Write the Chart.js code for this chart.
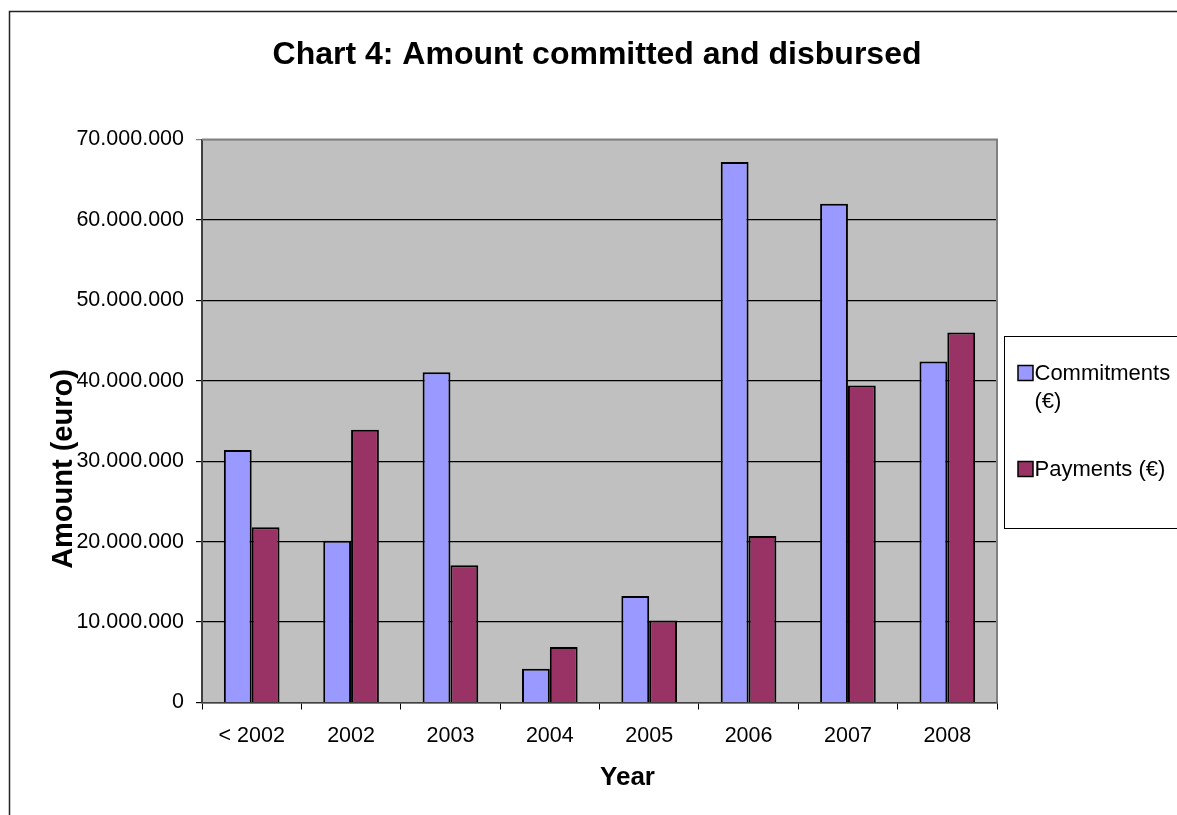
<!DOCTYPE html>
<html>
<head>
<meta charset="utf-8">
<script src="https://cdn.jsdelivr.net/npm/chart.js@4.4.1/dist/chart.umd.min.js"></script>
<style>
  html, body { margin: 0; padding: 0; background: #fff; }
  #wrap { width: 1177px; height: 815px; }
</style>
</head>
<body>
<div id="wrap"><canvas id="chart"></canvas></div>
<script>
const categories = ['< 2002', '2002', '2003', '2004', '2005', '2006', '2007', '2008'];
const commitments = [31400000, 20100000, 41050000, 4200000, 13250000, 67200000, 62000000, 42400000];
const payments = [21800000, 33900000, 17050000, 6900000, 10200000, 20700000, 39400000, 46000000];
const seriesLabels = ['Commitments (€)', 'Payments (€)'];
const yMax = 70000000;
const yStep = 10000000;

const FONT = "'Liberation Sans', Arial, sans-serif";

const formatDots = (v) => String(v).replace(/\B(?=(\d{3})+(?!\d))/g, '.');

// white page, outer frame, grey plot area
const background = {
  id: 'background',
  beforeDraw(chart) {
    const { ctx, chartArea: a } = chart;
    ctx.save();
    ctx.fillStyle = '#fff';
    ctx.fillRect(0, 0, chart.width, chart.height);
    ctx.strokeStyle = '#222';
    ctx.lineWidth = 1.5;
    ctx.strokeRect(9.5, 11.5, chart.width + 20, chart.height + 20);
    ctx.fillStyle = '#c0c0c0';
    ctx.fillRect(a.left, a.top, a.right - a.left, a.bottom - a.top);
    ctx.restore();
  },
  afterDraw(chart) {
    const { ctx, chartArea: a } = chart;
    ctx.save();
    ctx.strokeStyle = '#808080';
    ctx.lineWidth = 2;
    ctx.beginPath();
    ctx.moveTo(a.left, a.top);
    ctx.lineTo(a.right, a.top);
    ctx.lineTo(a.right, a.bottom);
    ctx.stroke();
    ctx.restore();
  }
};

// axis titles placed the way the original sheet has them
const axisTitles = {
  id: 'axisTitles',
  afterDraw(chart) {
    const { ctx, chartArea: a } = chart;
    ctx.save();
    ctx.fillStyle = '#000';
    ctx.textAlign = 'center';
    ctx.textBaseline = 'middle';
    ctx.font = 'bold 26px ' + FONT;
    ctx.fillText('Year', (a.left + a.right) / 2 + 28, a.bottom + 75);
    ctx.translate(64, (a.top + a.bottom) / 2 + 48);
    ctx.rotate(-Math.PI / 2);
    ctx.font = 'bold 29px ' + FONT;
    ctx.fillText('Amount (euro)', 0, 0);
    ctx.restore();
  }
};

// boxed legend on the right, labels wrap like the original
const boxLegend = {
  id: 'boxLegend',
  afterDraw(chart) {
    const { ctx, chartArea: a } = chart;
    const x = a.right + 7.5;
    const y = 336.5;
    ctx.save();
    ctx.strokeStyle = '#000';
    ctx.lineWidth = 1;
    ctx.strokeRect(x, y, 300, 192);
    ctx.font = '22px ' + FONT;
    ctx.textBaseline = 'alphabetic';
    ctx.textAlign = 'left';
    const maxW = 140;
    let baseline = y + 43;
    chart.data.datasets.forEach((ds) => {
      const words = ds.label.split(' ');
      const lines = [];
      let line = '';
      words.forEach((w) => {
        const t = line ? line + ' ' + w : w;
        if (ctx.measureText(t).width > maxW && line) {
          lines.push(line);
          line = w;
        } else {
          line = t;
        }
      });
      lines.push(line);
      ctx.fillStyle = ds.backgroundColor;
      ctx.fillRect(x + 13.5, baseline - 14, 15, 15);
      ctx.strokeStyle = '#000';
      ctx.lineWidth = 1.5;
      ctx.strokeRect(x + 13.5, baseline - 14, 15, 15);
      ctx.fillStyle = '#000';
      lines.forEach((l, i) => ctx.fillText(l, x + 30, baseline + i * 28.5));
      baseline += 96;
    });
    ctx.restore();
  }
};

new Chart(document.getElementById('chart'), {
  type: 'bar',
  data: {
    labels: categories,
    datasets: [
      {
        label: seriesLabels[0],
        data: commitments,
        backgroundColor: '#9999ff',
        borderColor: '#000',
        borderWidth: 2,
        categoryPercentage: 0.56,
        barPercentage: 1.0,
      },
      {
        label: seriesLabels[1],
        data: payments,
        backgroundColor: '#993366',
        borderColor: '#000',
        borderWidth: 2,
        categoryPercentage: 0.56,
        barPercentage: 1.0,
      },
    ],
  },
  options: {
    responsive: true,
    maintainAspectRatio: false,
    animation: false,
    events: [],
    layout: { padding: { left: 17, right: 0, top: 0, bottom: 0 } },
    plugins: {
      legend: { display: false },
      tooltip: { enabled: false },
      title: {
        display: true,
        text: 'Chart 4: Amount committed and disbursed',
        color: '#000',
        font: { family: FONT, size: 32, weight: 'bold', lineHeight: 1.2 },
        padding: { top: 36, bottom: 65.1 },
      },
    },
    scales: {
      x: {
        grid: {
          display: true,
          drawOnChartArea: false,
          drawTicks: true,
          tickLength: 7,
          color: '#000',
          offset: true,
        },
        border: { display: true, color: '#404040', width: 1.5 },
        ticks: {
          color: '#000',
          font: { family: FONT, size: 21.5 },
          padding: 14,
          maxRotation: 0,
          autoSkip: false,
        },
        afterFit(s) { s.height = 112.5; },
      },
      y: {
        min: 0,
        max: yMax,
        grid: {
          color: (c) => (c.tick && c.tick.value === yMax ? '#808080' : '#000'),
          lineWidth: 1.2,
          tickLength: 6,
        },
        border: { display: true, color: '#404040', width: 2 },
        ticks: {
          stepSize: yStep,
          color: '#000',
          font: { family: FONT, size: 21.5 },
          padding: 12,
          callback: (v) => formatDots(v),
        },
        afterFit(s) { s.width = 185; },
      },
      pad: {
        type: 'linear',
        position: 'right',
        display: true,
        grid: { display: false },
        border: { display: false },
        ticks: { display: false },
        afterFit(s) { s.width = 180; },
      },
    },
  },
  plugins: [background, axisTitles, boxLegend],
});
</script>
</body>
</html>
